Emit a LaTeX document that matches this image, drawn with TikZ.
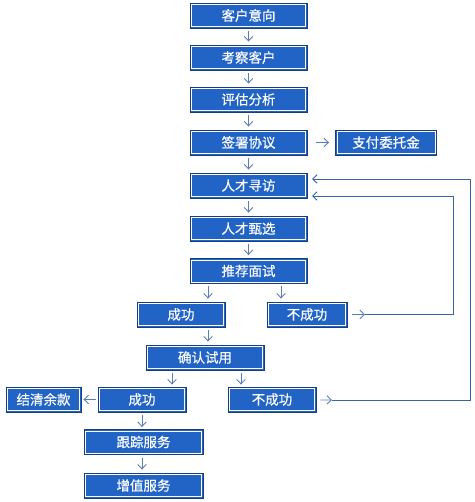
\documentclass[tikz,border=0pt]{standalone}
\usepackage{fontspec}
\newfontfamily\cjk[FakeBold=0.4]{Noto Sans CJK SC}
\usetikzlibrary{arrows.meta,calc}
\definecolor{boxblue}{RGB}{33,100,198}
\definecolor{boxdark}{RGB}{22,62,135}
\definecolor{linecol}{RGB}{55,100,165}
\definecolor{arrcol}{RGB}{90,125,185}
\tikzset{
  box/.style={fill=boxblue, draw=boxdark, line width=0.9pt, inner sep=0pt,
    minimum height=25pt, text=white, font=\cjk\fontsize{13.5}{13.5}\selectfont,
    path picture={\draw[white,line width=0.6pt]
      ([shift={(1.3pt,1.3pt)}]path picture bounding box.south west) rectangle
      ([shift={(-1.3pt,-1.3pt)}]path picture bounding box.north east);}},
  tip/.style={-{Straight Barb[length=4.5pt,width=8.5pt,line width=0.9pt]}},
  arr/.style={draw=arrcol, line width=0.8pt, tip},
  lin/.style={draw=linecol, line width=0.8pt}
}
\begin{document}
\begin{tikzpicture}[x=1pt,y=-1pt]
\useasboundingbox (0,0) rectangle (474,502);
\node[box, minimum width=117pt] (kh) at (248.5,15.5) {客户意向};
\node[box, minimum width=117pt] (kc) at (248.5,57.5) {考察客户};
\node[box, minimum width=117pt] (pg) at (248.5,99.5) {评估分析};
\node[box, minimum width=117pt] (qs) at (248.5,142.5) {签署协议};
\node[box, minimum width=101pt] (zf) at (386,142.5) {支付委托金};
\node[box, minimum width=117pt] (rx) at (248.5,185.5) {人才寻访};
\node[box, minimum width=117pt] (rz) at (248.5,228.5) {人才甄选};
\node[box, minimum width=117pt] (tj) at (248.5,271) {推荐面试};
\node[box, minimum width=88pt] (cg1) at (181,314.5) {成功};
\node[box, minimum width=80pt] (bcg1) at (307,314.5) {不成功};
\node[box, minimum width=118pt] (qr) at (205,357.5) {确认试用};
\node[box, minimum width=88pt] (cg2) at (142,399.5) {成功};
\node[box, minimum width=88pt] (bcg2) at (272,399.5) {不成功};
\node[box, minimum width=75pt] (jq) at (43.5,399.5) {结清余款};
\node[box, minimum width=119pt] (gz) at (143.5,442) {跟踪服务};
\node[box, minimum width=119pt] (zz) at (143.5,485.5) {增值服务};
% helper coordinates
\coordinate (xa) at (208,0);
\coordinate (xb) at (281,0);
\coordinate (xc) at (172,0);
\coordinate (xd) at (241,0);
\coordinate (xe) at (142,0);
\coordinate (s1) at (365,314.5);
\coordinate (c1) at (453,314.5);
\coordinate (in1) at (307,196);
\coordinate (s2) at (332,400);
\coordinate (c2) at (470,400);
\coordinate (in2) at (307,179);
% main column
\foreach \a/\b in {kh/kc,kc/pg,pg/qs,qs/rx,rx/rz,rz/tj}
  \draw[arr, shorten <=3pt, shorten >=3pt] (\a) -- (\b);
\draw[arr, shorten <=9pt, shorten >=6pt] (qs) -- (zf);
\draw[arr, shorten <=2pt, shorten >=3pt] (tj.south -| xa) -- (cg1.north -| xa);
\draw[arr, shorten <=2pt, shorten >=3pt] (tj.south -| xb) -- (bcg1.north -| xb);
\draw[arr, shorten <=3pt, shorten >=3pt] (cg1.south -| xa) -- (qr.north -| xa);
\draw[arr, shorten <=3pt, shorten >=2pt] (qr.south -| xc) -- (cg2.north -| xc);
\draw[arr, shorten <=3pt, shorten >=2pt] (qr.south -| xd) -- (bcg2.north -| xd);
\draw[arr, shorten <=2pt, shorten >=2pt] (cg2) -- (jq);
\draw[arr, shorten <=3pt, shorten >=2pt] (cg2.south -| xe) -- (gz.north -| xe);
\draw[arr, shorten <=3pt, shorten >=3pt] (gz.south -| xe) -- (zz.north -| xe);
% loops back
\draw[arr, shorten <=5pt] (bcg1) -- (s1);
\draw[lin, tip, shorten >=5pt] (s1) -- (c1) |- (in1);
\draw[arr, shorten <=4pt] (bcg2) -- (s2);
\draw[lin, tip, shorten >=5pt] (s2) -- (c2) |- (in2);
\end{tikzpicture}
\end{document}
